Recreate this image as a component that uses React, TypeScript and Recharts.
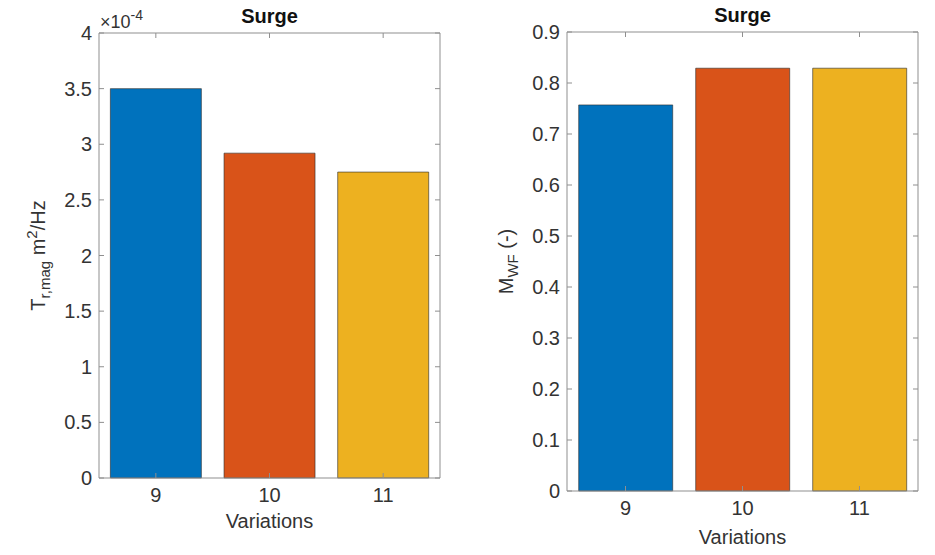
import { Bar, BarChart, Cell, Label, XAxis, YAxis } from "recharts";

const variations = ["9", "10", "11"];
const trMag = [3.5e-4, 2.92e-4, 2.75e-4];
const mWF = [0.757, 0.829, 0.829];
const trMagTicks = [0, 0.5e-4, 1e-4, 1.5e-4, 2e-4, 2.5e-4, 3e-4, 3.5e-4, 4e-4];
const mWFTicks = [0, 0.1, 0.2, 0.3, 0.4, 0.5, 0.6, 0.7, 0.8, 0.9];
const barColors = ["#0072BD", "#D95319", "#EDB120"];

const FONT = '"Liberation Sans", Arial, Helvetica, sans-serif';
const AXIS = "#8f8f8f";
const TEXT = "#333333";
const FS = 20;

const trData = variations.map((v, i) => ({ name: v, value: trMag[i] }));
const mwfData = variations.map((v, i) => ({ name: v, value: mWF[i] }));

const fmtE4 = (v: number) => String(parseFloat((v * 1e4).toFixed(2)));
const fmtPlain = (v: number) => String(parseFloat(v.toFixed(2)));
const blank = () => "";

type PanelProps = {
  data: { name: string; value: number }[];
  domain: [number, number];
  ticks: number[];
  fmt: (v: number) => string;
  width: number;
  height: number;
  margin: { top: number; right: number; bottom: number; left: number };
  xLabelDy: number;
  yLabel: (cx: number, cy: number) => React.ReactNode;
  exponent?: boolean;
};

function Panel({ data, domain, ticks, fmt, width, height, margin, xLabelDy, yLabel, exponent }: PanelProps) {
  const tickStyle = { fontSize: FS, fill: TEXT, fontFamily: FONT };
  return (
    <BarChart width={width} height={height} data={data} margin={margin} barCategoryGap="10%">
      <Bar dataKey="value" isAnimationActive={false} stroke="#2a2a2a" strokeWidth={0.6}>
        {data.map((d, i) => (
          <Cell key={d.name} fill={barColors[i]} />
        ))}
      </Bar>
      {/* hidden series so the top/right box axes get a domain */}
      <Bar
        dataKey="value"
        xAxisId="top"
        yAxisId="r"
        isAnimationActive={false}
        fill="none"
        stroke="none"
      />
      <XAxis
        dataKey="name"
        stroke={AXIS}
        tickSize={-5}
        tickMargin={15}
        tick={tickStyle}
        height={40}
      >
        <Label
          content={({ viewBox }: any) => (
            <text
              x={viewBox.x + viewBox.width / 2}
              y={viewBox.y + xLabelDy}
              textAnchor="middle"
              fontSize={FS}
              fontFamily={FONT}
              fill={TEXT}
            >
              Variations
            </text>
          )}
        />
      </XAxis>
      <XAxis
        xAxisId="top"
        dataKey="name"
        orientation="top"
        stroke={AXIS}
        tickSize={-5}
        tickFormatter={blank}
        height={1}
      >
        <Label
          content={({ viewBox }: any) => (
            <g>
              <text
                x={viewBox.x + viewBox.width / 2}
                y={viewBox.y + viewBox.height - 10}
                textAnchor="middle"
                fontSize={FS}
                fontWeight="bold"
                fontFamily={FONT}
                fill="#111"
              >
                Surge
              </text>
              {exponent && (
                <text
                  x={viewBox.x + 1}
                  y={viewBox.y + viewBox.height - 5}
                  fontSize={18}
                  fontFamily={FONT}
                  fill={TEXT}
                >
                  <tspan>×10</tspan>
                  <tspan dy={-8} fontSize={14}>
                    -4
                  </tspan>
                </text>
              )}
            </g>
          )}
        />
      </XAxis>
      <YAxis
        type="number"
        domain={domain}
        ticks={ticks}
        tickFormatter={fmt}
        stroke={AXIS}
        tickSize={-5}
        tickMargin={12}
        tick={tickStyle}
        width={60}
        interval={0}
      >
        <Label
          content={({ viewBox }: any) => yLabel(viewBox.x + 6, viewBox.y + viewBox.height / 2)}
        />
      </YAxis>
      <YAxis
        yAxisId="r"
        type="number"
        orientation="right"
        domain={domain}
        ticks={ticks}
        tickFormatter={blank}
        stroke={AXIS}
        tickSize={-5}
        width={1}
        interval={0}
      />
    </BarChart>
  );
}

const trLabel = (cx: number, cy: number) => (
  <text
    x={cx}
    y={cy}
    transform={`rotate(-90, ${cx}, ${cy})`}
    textAnchor="middle"
    fontSize={FS}
    fontFamily={FONT}
    fill={TEXT}
  >
    <tspan>T</tspan>
    <tspan dy={5} fontSize={15}>
      r,mag
    </tspan>
    <tspan dy={-5}> m</tspan>
    <tspan dy={-8} fontSize={15}>
      2
    </tspan>
    <tspan dy={8}>/Hz</tspan>
  </text>
);

const mwfLabel = (cx: number, cy: number) => (
  <text
    x={cx}
    y={cy}
    transform={`rotate(-90, ${cx}, ${cy})`}
    textAnchor="middle"
    fontSize={FS}
    fontFamily={FONT}
    fill={TEXT}
  >
    <tspan>M</tspan>
    <tspan dy={5} fontSize={15}>
      WF
    </tspan>
    <tspan dy={-5}> (-)</tspan>
  </text>
);

export default function App() {
  return (
    <div
      style={{
        position: "absolute",
        left: 0,
        top: 0,
        width: 935,
        height: 555,
        background: "#fff",
        fontFamily: FONT,
      }}
    >
      <div style={{ position: "absolute", left: 0, top: 0 }}>
        <Panel
          data={trData}
          domain={[0, 4e-4]}
          ticks={trMagTicks}
          fmt={fmtE4}
          width={467}
          height={555}
          margin={{ top: 32, right: 26, bottom: 37, left: 39 }}
          xLabelDy={50}
          yLabel={trLabel}
          exponent
        />
      </div>
      <div style={{ position: "absolute", left: 467, top: 0 }}>
        <Panel
          data={mwfData}
          domain={[0, 0.9]}
          ticks={mWFTicks}
          fmt={fmtPlain}
          width={468}
          height={555}
          margin={{ top: 31, right: 16, bottom: 24, left: 40 }}
          xLabelDy={53}
          yLabel={mwfLabel}
        />
      </div>
    </div>
  );
}
